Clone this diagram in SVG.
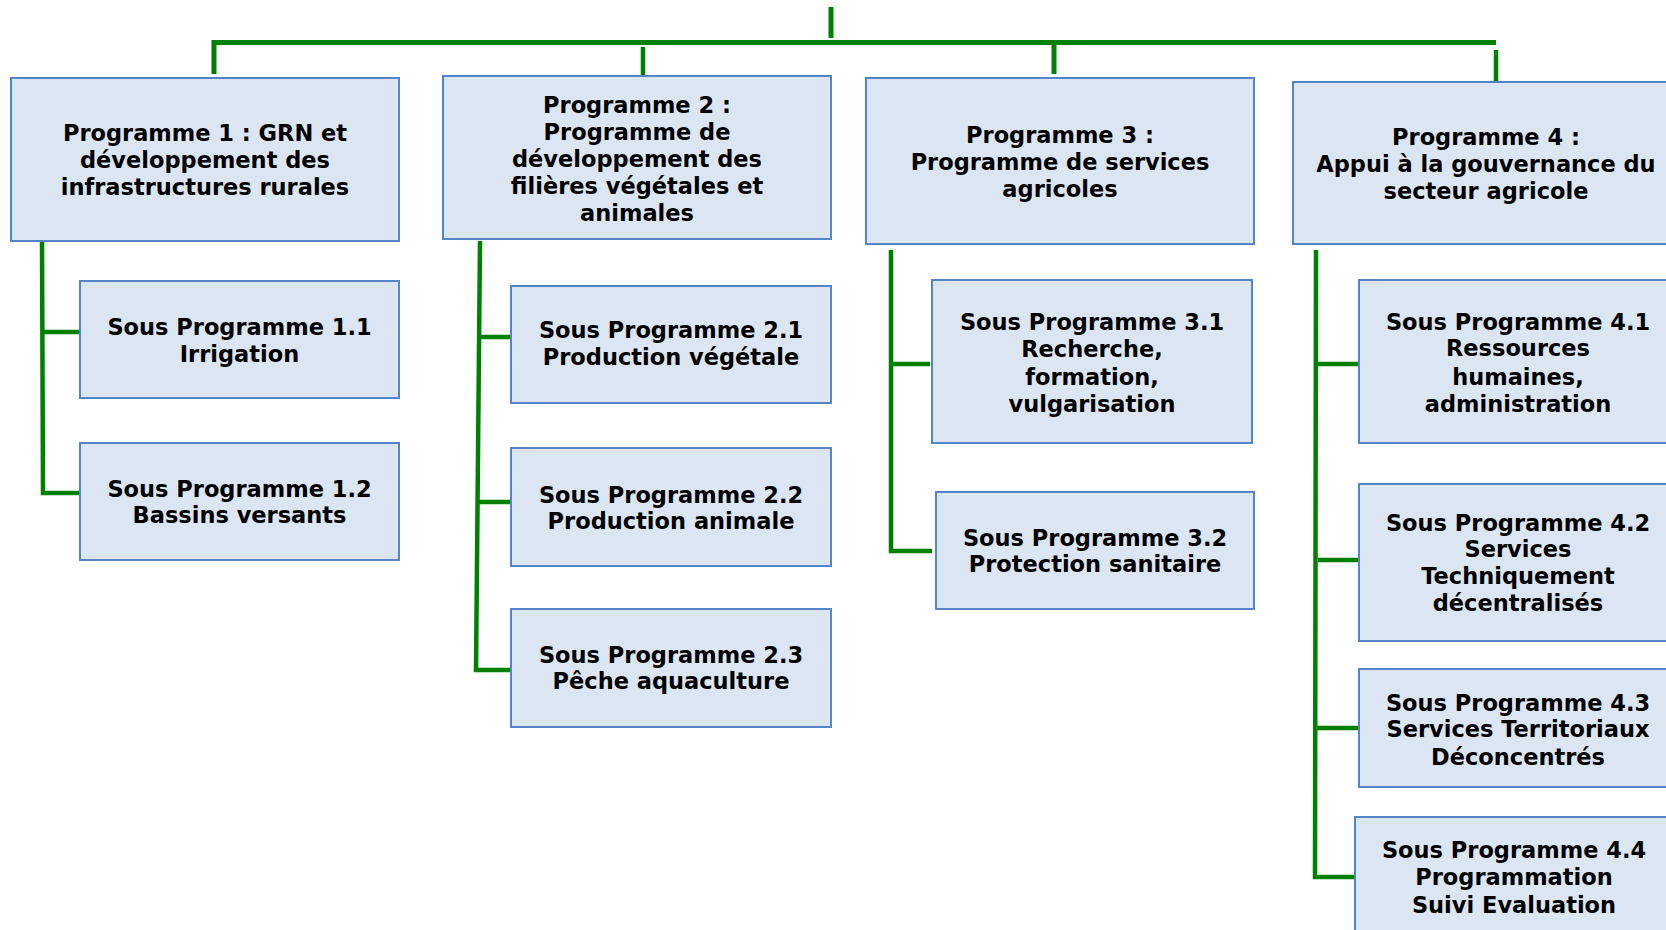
<svg xmlns="http://www.w3.org/2000/svg" width="1666" height="930" viewBox="0 0 1666 930">
  <style>
    .box { fill: #dce6f2; stroke: #5585c7; stroke-width: 2; }
    .lbl { font-family: "DejaVu Sans", Verdana, sans-serif; font-weight: bold; font-size: 22.5px; fill: #000; text-anchor: middle; }
    .link { fill: none; stroke: #008000; stroke-width: 4.5; stroke-linecap: butt; stroke-linejoin: miter; }
    .trunk { stroke-width: 5; }
  </style>
  <rect width="1666" height="930" fill="#ffffff"/>

  <!-- connectors -->
  <g id="connectors">
    <path class="link trunk" d="M831 7 V38"/>
    <path class="link trunk" d="M214 74 V42.5 H1496"/>
    <path class="link" d="M643 47 V78"/>
    <path class="link trunk" d="M1054 42.5 V74"/>
    <path class="link" d="M1496 50 V82"/>
    <!-- programme 1 -->
    <path class="link" d="M42 241 L43 493 H80"/>
    <path class="link" d="M42 332 H80"/>
    <!-- programme 2 -->
    <path class="link" d="M480 241 L476 670 H511"/>
    <path class="link" d="M479 337 H511"/>
    <path class="link" d="M478 502 H511"/>
    <!-- programme 3 -->
    <path class="link" d="M891 250 V551 H932"/>
    <path class="link" d="M891 364 H930"/>
    <!-- programme 4 -->
    <path class="link" d="M1316 250 L1315 877 H1361"/>
    <path class="link" d="M1318 364 H1358"/>
    <path class="link" d="M1318 560 H1359"/>
    <path class="link" d="M1317 728 H1359"/>
  </g>

  <!-- programmes -->
  <g id="p1">
    <rect class="box" x="11" y="78" width="388" height="163"/>
    <text class="lbl"><tspan x="205" y="141">Programme 1 : GRN et</tspan><tspan x="205" y="168">développement des</tspan><tspan x="205" y="195">infrastructures rurales</tspan></text>
  </g>
  <g id="p2">
    <rect class="box" x="443" y="76" width="388" height="163"/>
    <text class="lbl"><tspan x="637" y="113">Programme 2 :</tspan><tspan x="637" y="140">Programme de</tspan><tspan x="637" y="167">développement des</tspan><tspan x="637" y="194">filières végétales et</tspan><tspan x="637" y="221">animales</tspan></text>
  </g>
  <g id="p3">
    <rect class="box" x="866" y="78" width="388" height="166"/>
    <text class="lbl"><tspan x="1060" y="143">Programme 3 :</tspan><tspan x="1060" y="170">Programme de services</tspan><tspan x="1060" y="197">agricoles</tspan></text>
  </g>
  <g id="p4">
    <rect class="box" x="1293" y="82" width="386" height="162"/>
    <text class="lbl"><tspan x="1486" y="145">Programme 4 :</tspan><tspan x="1486" y="172">Appui à la gouvernance du</tspan><tspan x="1486" y="199">secteur agricole</tspan></text>
  </g>

  <!-- sub-programmes -->
  <g id="sp11">
    <rect class="box" x="80" y="281" width="319" height="117"/>
    <text class="lbl"><tspan x="239.5" y="335">Sous Programme 1.1</tspan><tspan x="239.5" y="362">Irrigation</tspan></text>
  </g>
  <g id="sp12">
    <rect class="box" x="80" y="443" width="319" height="117"/>
    <text class="lbl"><tspan x="239.5" y="497">Sous Programme 1.2</tspan><tspan x="239.5" y="523">Bassins versants</tspan></text>
  </g>
  <g id="sp21">
    <rect class="box" x="511" y="286" width="320" height="117"/>
    <text class="lbl"><tspan x="671" y="338">Sous Programme 2.1</tspan><tspan x="671" y="365">Production végétale</tspan></text>
  </g>
  <g id="sp22">
    <rect class="box" x="511" y="448" width="320" height="118"/>
    <text class="lbl"><tspan x="671" y="503">Sous Programme 2.2</tspan><tspan x="671" y="529">Production animale</tspan></text>
  </g>
  <g id="sp23">
    <rect class="box" x="511" y="609" width="320" height="118"/>
    <text class="lbl"><tspan x="671" y="663">Sous Programme 2.3</tspan><tspan x="671" y="689">Pêche aquaculture</tspan></text>
  </g>
  <g id="sp31">
    <rect class="box" x="932" y="280" width="320" height="163"/>
    <text class="lbl"><tspan x="1092" y="330">Sous Programme 3.1</tspan><tspan x="1092" y="357">Recherche,</tspan><tspan x="1092" y="385">formation,</tspan><tspan x="1092" y="412">vulgarisation</tspan></text>
  </g>
  <g id="sp32">
    <rect class="box" x="936" y="492" width="318" height="117"/>
    <text class="lbl"><tspan x="1095" y="546">Sous Programme 3.2</tspan><tspan x="1095" y="572">Protection sanitaire</tspan></text>
  </g>
  <g id="sp41">
    <rect class="box" x="1359" y="280" width="318" height="163"/>
    <text class="lbl"><tspan x="1518" y="330">Sous Programme 4.1</tspan><tspan x="1518" y="356">Ressources</tspan><tspan x="1518" y="385">humaines,</tspan><tspan x="1518" y="412">administration</tspan></text>
  </g>
  <g id="sp42">
    <rect class="box" x="1359" y="484" width="318" height="157"/>
    <text class="lbl"><tspan x="1518" y="531">Sous Programme 4.2</tspan><tspan x="1518" y="557">Services</tspan><tspan x="1518" y="584">Techniquement</tspan><tspan x="1518" y="611">décentralisés</tspan></text>
  </g>
  <g id="sp43">
    <rect class="box" x="1359" y="669" width="318" height="118"/>
    <text class="lbl"><tspan x="1518" y="711">Sous Programme 4.3</tspan><tspan x="1518" y="737">Services Territoriaux</tspan><tspan x="1518" y="765">Déconcentrés</tspan></text>
  </g>
  <g id="sp44">
    <rect class="box" x="1355" y="817" width="318" height="130"/>
    <text class="lbl"><tspan x="1514" y="858">Sous Programme 4.4</tspan><tspan x="1514" y="885">Programmation</tspan><tspan x="1514" y="913">Suivi Evaluation</tspan></text>
  </g>
</svg>
